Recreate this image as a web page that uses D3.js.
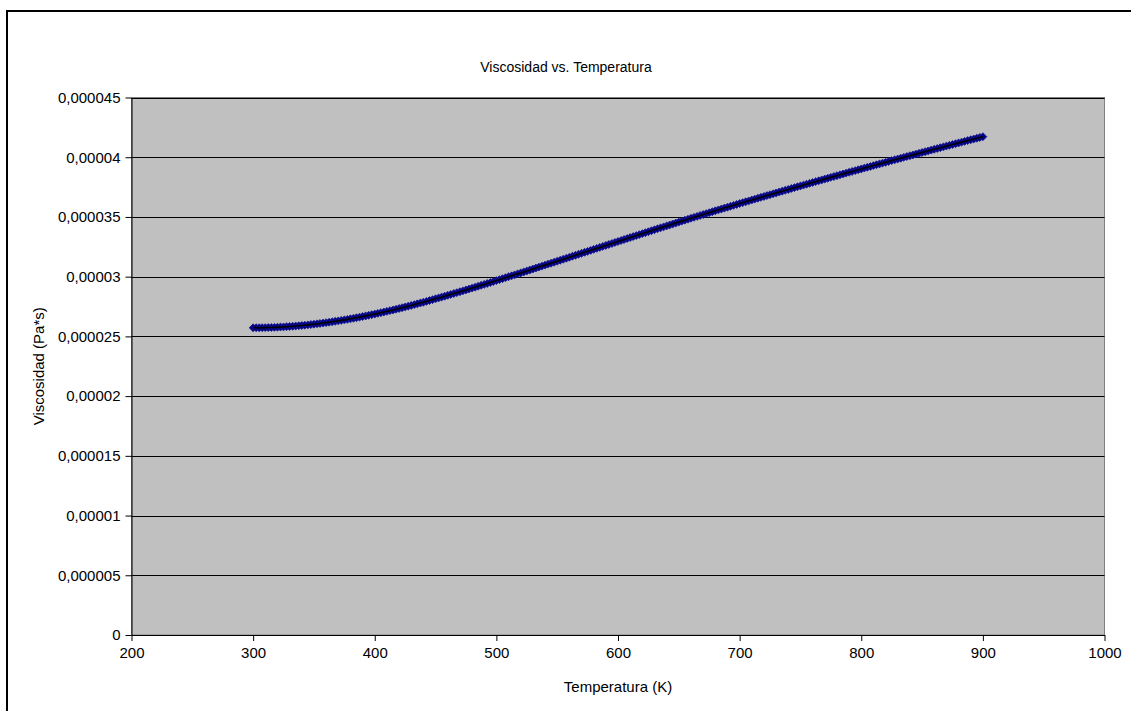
<!DOCTYPE html>
<html>
<head>
<meta charset="utf-8">
<script src="https://cdn.jsdelivr.net/npm/d3@7"></script>
<style>
  html, body { margin: 0; padding: 0; background: #fff; }
  svg { display: block; }
  text { font-family: "Liberation Sans", Arial, sans-serif; fill: #000; }
</style>
</head>
<body>
<svg id="chart" width="1131" height="711"></svg>
<script>
// Temperature (K)
const temperatura = [
  300,302.5,305,307.5,310,312.5,315,317.5,320,322.5,
  325,327.5,330,332.5,335,337.5,340,342.5,345,347.5,
  350,352.5,355,357.5,360,362.5,365,367.5,370,372.5,
  375,377.5,380,382.5,385,387.5,390,392.5,395,397.5,
  400,402.5,405,407.5,410,412.5,415,417.5,420,422.5,
  425,427.5,430,432.5,435,437.5,440,442.5,445,447.5,
  450,452.5,455,457.5,460,462.5,465,467.5,470,472.5,
  475,477.5,480,482.5,485,487.5,490,492.5,495,497.5,
  500,502.5,505,507.5,510,512.5,515,517.5,520,522.5,
  525,527.5,530,532.5,535,537.5,540,542.5,545,547.5,
  550,552.5,555,557.5,560,562.5,565,567.5,570,572.5,
  575,577.5,580,582.5,585,587.5,590,592.5,595,597.5,
  600,602.5,605,607.5,610,612.5,615,617.5,620,622.5,
  625,627.5,630,632.5,635,637.5,640,642.5,645,647.5,
  650,652.5,655,657.5,660,662.5,665,667.5,670,672.5,
  675,677.5,680,682.5,685,687.5,690,692.5,695,697.5,
  700,702.5,705,707.5,710,712.5,715,717.5,720,722.5,
  725,727.5,730,732.5,735,737.5,740,742.5,745,747.5,
  750,752.5,755,757.5,760,762.5,765,767.5,770,772.5,
  775,777.5,780,782.5,785,787.5,790,792.5,795,797.5,
  800,802.5,805,807.5,810,812.5,815,817.5,820,822.5,
  825,827.5,830,832.5,835,837.5,840,842.5,845,847.5,
  850,852.5,855,857.5,860,862.5,865,867.5,870,872.5,
  875,877.5,880,882.5,885,887.5,890,892.5,895,897.5,
  900
];

// Viscosity (micro Pa*s)
const viscosidad = [
  25.720,25.721,25.723,25.727,25.732,25.739,25.747,25.757,25.768,25.781,
  25.795,25.811,25.828,25.847,25.867,25.889,25.912,25.937,25.963,25.991,
  26.020,26.051,26.083,26.116,26.150,26.186,26.223,26.261,26.300,26.341,
  26.383,26.426,26.470,26.516,26.563,26.611,26.660,26.711,26.763,26.816,
  26.870,26.925,26.982,27.039,27.097,27.156,27.216,27.276,27.338,27.400,
  27.464,27.528,27.593,27.659,27.726,27.793,27.862,27.931,28.002,28.073,
  28.145,28.218,28.291,28.364,28.438,28.512,28.587,28.662,28.737,28.813,
  28.889,28.965,29.042,29.119,29.197,29.275,29.353,29.432,29.511,29.590,
  29.670,29.750,29.830,29.911,29.991,30.072,30.152,30.233,30.314,30.395,
  30.476,30.558,30.639,30.721,30.802,30.884,30.966,31.048,31.130,31.213,
  31.295,31.378,31.460,31.543,31.625,31.708,31.790,31.873,31.955,32.038,
  32.120,32.203,32.285,32.368,32.450,32.533,32.615,32.698,32.780,32.863,
  32.945,33.027,33.110,33.192,33.274,33.356,33.438,33.519,33.601,33.682,
  33.764,33.845,33.926,34.007,34.088,34.168,34.249,34.329,34.410,34.490,
  34.570,34.650,34.730,34.809,34.888,34.967,35.046,35.124,35.202,35.280,
  35.358,35.435,35.512,35.589,35.666,35.742,35.818,35.894,35.970,36.045,
  36.120,36.195,36.270,36.344,36.419,36.493,36.568,36.642,36.716,36.790,
  36.864,36.937,37.011,37.084,37.158,37.231,37.304,37.377,37.450,37.522,
  37.595,37.667,37.740,37.812,37.884,37.956,38.028,38.099,38.171,38.242,
  38.314,38.385,38.456,38.527,38.598,38.668,38.739,38.809,38.880,38.950,
  39.020,39.090,39.160,39.229,39.299,39.368,39.438,39.507,39.576,39.645,
  39.714,39.782,39.851,39.919,39.988,40.056,40.124,40.192,40.260,40.327,
  40.395,40.462,40.530,40.597,40.664,40.731,40.798,40.864,40.931,40.997,
  41.064,41.130,41.196,41.262,41.328,41.393,41.459,41.524,41.590,41.655,
  41.720
];

// Axis ticks
const xTicks = [200, 300, 400, 500, 600, 700, 800, 900, 1000];
const xTickLabels = ["200", "300", "400", "500", "600", "700", "800", "900", "1000"];
const yTicks = [0, 5, 10, 15, 20, 25, 30, 35, 40, 45];
const yTickLabels = ["0", "0,000005", "0,00001", "0,000015", "0,00002",
                     "0,000025", "0,00003", "0,000035", "0,00004", "0,000045"];

const svg = d3.select("#chart");

// Chart frame
svg.append("rect")
  .attr("x", 7).attr("y", 11)
  .attr("width", 1140).attr("height", 720)
  .attr("fill", "#fff").attr("stroke", "#000").attr("stroke-width", 2);

const plot = { left: 131.5, right: 1104.5, top: 97.5, bottom: 635 };

const x = d3.scaleLinear().domain([200, 1000]).range([plot.left, plot.right]);
const y = d3.scaleLinear().domain([0, 45]).range([plot.bottom, plot.top]);

// Plot area
svg.append("rect")
  .attr("x", plot.left).attr("y", plot.top)
  .attr("width", plot.right - plot.left).attr("height", plot.bottom - plot.top)
  .attr("fill", "#C0C0C0").attr("stroke", "#808080").attr("stroke-width", 1);

// Horizontal gridlines
svg.append("g")
  .selectAll("line")
  .data(yTicks.filter(d => d > 0))
  .join("line")
  .attr("x1", plot.left).attr("x2", plot.right)
  .attr("y1", d => Math.round(y(d)) + 0.5).attr("y2", d => Math.round(y(d)) + 0.5)
  .attr("stroke", "#000").attr("stroke-width", 1);

// Axes
const xAxis = d3.axisBottom(x).tickValues(xTicks).tickSize(6).tickSizeOuter(0).tickPadding(6)
  .tickFormat((d, i) => xTickLabels[i]);
const yAxis = d3.axisLeft(y).tickValues(yTicks).tickSize(6).tickSizeOuter(0).tickPadding(5)
  .tickFormat((d, i) => yTickLabels[i]);

const gx = svg.append("g").attr("transform", `translate(0,${plot.bottom})`).call(xAxis);
const gy = svg.append("g").attr("transform", `translate(${plot.left},0)`).call(yAxis);

[gx, gy].forEach(g => {
  g.select(".domain").attr("stroke", "#000").attr("stroke-width", 1);
  g.selectAll(".tick line").attr("stroke", "#000");
  g.selectAll(".tick text")
    .attr("font-family", "'Liberation Sans', Arial, sans-serif")
    .attr("font-size", 15).attr("fill", "#000");
});

// Series: diamond markers with the connecting line on top
const data = temperatura.map((t, i) => ({ t, v: viscosidad[i] }));
const line = d3.line().x(d => x(d.t)).y(d => y(d.v));

const diamond = d3.symbol().type(d3.symbolDiamond2).size(40);
svg.append("g")
  .selectAll("path")
  .data(data)
  .join("path")
  .attr("transform", d => `translate(${x(d.t)},${y(d.v)})`)
  .attr("d", diamond)
  .attr("fill", "#000080")
  .attr("stroke", "#1a1a99")
  .attr("stroke-width", 0.8);

svg.append("path")
  .datum(data)
  .attr("fill", "none")
  .attr("stroke", "#000")
  .attr("stroke-width", 1.6)
  .attr("d", line);

// Titles
svg.append("text")
  .attr("x", 566).attr("y", 72)
  .attr("text-anchor", "middle")
  .attr("font-size", 14)
  .text("Viscosidad vs. Temperatura");

svg.append("text")
  .attr("x", (plot.left + plot.right) / 2).attr("y", 692)
  .attr("text-anchor", "middle")
  .attr("font-size", 15)
  .text("Temperatura (K)");

svg.append("text")
  .attr("transform", `translate(44,${(plot.top + plot.bottom) / 2}) rotate(-90)`)
  .attr("text-anchor", "middle")
  .attr("font-size", 15)
  .text("Viscosidad (Pa*s)");
</script>
</body>
</html>
